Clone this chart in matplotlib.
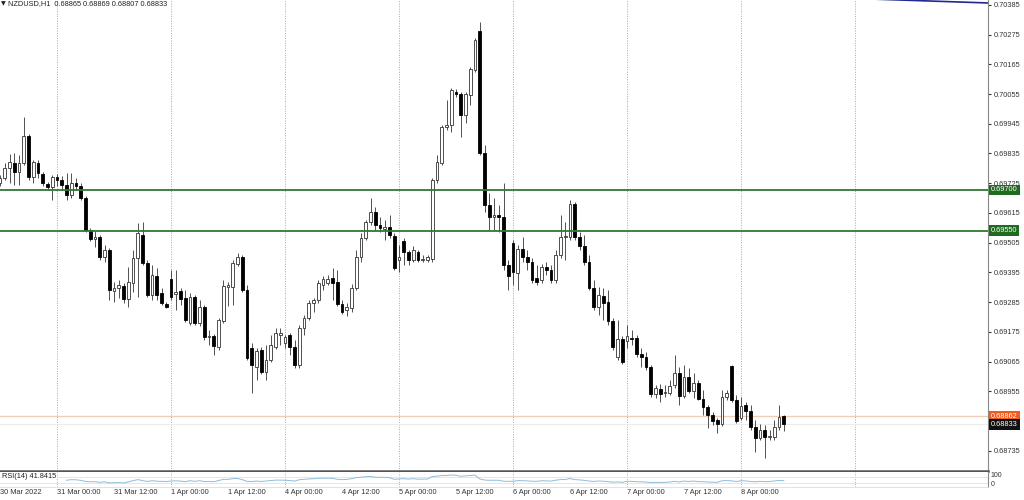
#!/usr/bin/env python
"""NZDUSD H1 candlestick chart in MetaTrader style, with an RSI(14) sub-window."""
import matplotlib
matplotlib.use("Agg")
import matplotlib.pyplot as plt
import matplotlib.transforms as mtransforms
import numpy as np

plt.rcParams["font.family"] = ["Liberation Sans", "DejaVu Sans"]

# hourly bars, 30 Mar 2022 12:00 -> 8 Apr 2022 09:00
opens = [0.69726, 0.69744, 0.69781, 0.69800, 0.69767, 0.69800, 0.69900, 0.69748, 0.69800, 0.69759,
         0.69722, 0.69711, 0.69748, 0.69737, 0.69718, 0.69682, 0.69726, 0.69715, 0.69670, 0.69552,
         0.69519, 0.69526, 0.69452, 0.69478, 0.69326, 0.69337, 0.69345, 0.69297, 0.69356, 0.69448,
         0.69534, 0.69430, 0.69312, 0.69382, 0.69319, 0.69278, 0.69371, 0.69315, 0.69326, 0.69300,
         0.69208, 0.69304, 0.69208, 0.69267, 0.69156, 0.69160, 0.69119, 0.69215, 0.69341, 0.69341,
         0.69426, 0.69452, 0.69330, 0.69115, 0.69045, 0.69108, 0.69027, 0.69071, 0.69119, 0.69164,
         0.69134, 0.69164, 0.69119, 0.69052, 0.69189, 0.69226, 0.69282, 0.69293, 0.69349, 0.69356,
         0.69374, 0.69360, 0.69278, 0.69256, 0.69263, 0.69337, 0.69452, 0.69522, 0.69582, 0.69619,
         0.69571, 0.69556, 0.69563, 0.69530, 0.69441, 0.69511, 0.69471, 0.69441, 0.69471, 0.69441,
         0.69441, 0.69445, 0.69737, 0.69800, 0.69933, 0.69941, 0.70063, 0.70055, 0.69978, 0.70052,
         0.70144, 0.70288, 0.69837, 0.69645, 0.69600, 0.69608, 0.69600, 0.69423, 0.69504, 0.69393,
         0.69482, 0.69452, 0.69434, 0.69374, 0.69367, 0.69415, 0.69404, 0.69367, 0.69460, 0.69526,
         0.69526, 0.69648, 0.69526, 0.69493, 0.69434, 0.69337, 0.69267, 0.69308, 0.69286, 0.69215,
         0.69082, 0.69149, 0.69141, 0.69152, 0.69152, 0.69093, 0.69082, 0.69045, 0.68945, 0.68964,
         0.68949, 0.68949, 0.68979, 0.69023, 0.68938, 0.69008, 0.68956, 0.68986, 0.68927, 0.68897,
         0.68868, 0.68849, 0.68834, 0.68934, 0.69049, 0.68923, 0.68856, 0.68905, 0.68882, 0.68823,
         0.68782, 0.68812, 0.68786, 0.68786, 0.68823, 0.68865]
highs = [0.69755, 0.69800, 0.69833, 0.69837, 0.69830, 0.69970, 0.69907, 0.69811, 0.69811, 0.69767,
         0.69730, 0.69755, 0.69759, 0.69752, 0.69763, 0.69763, 0.69744, 0.69726, 0.69678, 0.69559,
         0.69548, 0.69534, 0.69497, 0.69485, 0.69360, 0.69367, 0.69356, 0.69415, 0.69478, 0.69578,
         0.69582, 0.69441, 0.69423, 0.69411, 0.69337, 0.69286, 0.69404, 0.69404, 0.69337, 0.69330,
         0.69319, 0.69312, 0.69293, 0.69275, 0.69182, 0.69167, 0.69226, 0.69367, 0.69360, 0.69441,
         0.69467, 0.69460, 0.69349, 0.69134, 0.69115, 0.69119, 0.69126, 0.69164, 0.69189, 0.69189,
         0.69164, 0.69171, 0.69145, 0.69200, 0.69237, 0.69293, 0.69300, 0.69367, 0.69382, 0.69386,
         0.69411, 0.69404, 0.69293, 0.69282, 0.69352, 0.69478, 0.69541, 0.69589, 0.69670, 0.69637,
         0.69600, 0.69589, 0.69608, 0.69541, 0.69497, 0.69522, 0.69478, 0.69493, 0.69478, 0.69460,
         0.69460, 0.69744, 0.69830, 0.69941, 0.70033, 0.70077, 0.70074, 0.70063, 0.70063, 0.70155,
         0.70262, 0.70322, 0.69867, 0.69689, 0.69670, 0.69645, 0.69726, 0.69441, 0.69515, 0.69497,
         0.69526, 0.69478, 0.69448, 0.69423, 0.69426, 0.69434, 0.69423, 0.69478, 0.69608, 0.69582,
         0.69663, 0.69656, 0.69545, 0.69534, 0.69460, 0.69367, 0.69341, 0.69337, 0.69330, 0.69226,
         0.69219, 0.69160, 0.69200, 0.69182, 0.69164, 0.69115, 0.69101, 0.69052, 0.68979, 0.68982,
         0.68979, 0.68997, 0.69090, 0.69045, 0.69052, 0.69041, 0.69023, 0.68997, 0.68960, 0.68905,
         0.68879, 0.68856, 0.68960, 0.68960, 0.69052, 0.68942, 0.68934, 0.68916, 0.68905, 0.68849,
         0.68834, 0.68831, 0.68812, 0.68849, 0.68905, 0.68869]
lows = [0.69715, 0.69737, 0.69726, 0.69718, 0.69718, 0.69792, 0.69737, 0.69726, 0.69744, 0.69715,
        0.69700, 0.69663, 0.69715, 0.69700, 0.69663, 0.69670, 0.69700, 0.69663, 0.69545, 0.69511,
        0.69489, 0.69441, 0.69434, 0.69293, 0.69286, 0.69300, 0.69282, 0.69267, 0.69323, 0.69304,
        0.69423, 0.69304, 0.69293, 0.69293, 0.69275, 0.69263, 0.69293, 0.69256, 0.69275, 0.69212,
        0.69200, 0.69200, 0.69197, 0.69145, 0.69126, 0.69090, 0.69108, 0.69208, 0.69271, 0.69275,
        0.69419, 0.69323, 0.69071, 0.68949, 0.68997, 0.69019, 0.68997, 0.69064, 0.69112, 0.69126,
        0.69115, 0.69090, 0.69041, 0.69041, 0.69164, 0.69219, 0.69249, 0.69282, 0.69330, 0.69349,
        0.69293, 0.69271, 0.69241, 0.69234, 0.69249, 0.69330, 0.69434, 0.69515, 0.69571, 0.69552,
        0.69545, 0.69515, 0.69522, 0.69404, 0.69397, 0.69423, 0.69423, 0.69434, 0.69434, 0.69434,
        0.69434, 0.69434, 0.69726, 0.69792, 0.69922, 0.69915, 0.70044, 0.69896, 0.69948, 0.70015,
        0.70137, 0.69830, 0.69619, 0.69552, 0.69552, 0.69545, 0.69404, 0.69330, 0.69349, 0.69330,
        0.69434, 0.69404, 0.69356, 0.69349, 0.69356, 0.69386, 0.69356, 0.69356, 0.69448, 0.69441,
        0.69515, 0.69515, 0.69478, 0.69423, 0.69330, 0.69256, 0.69237, 0.69219, 0.69200, 0.69108,
        0.69071, 0.69056, 0.69115, 0.69126, 0.69082, 0.69045, 0.69034, 0.68934, 0.68930, 0.68916,
        0.68934, 0.68942, 0.68967, 0.68905, 0.68930, 0.68949, 0.68930, 0.68923, 0.68868, 0.68819,
        0.68831, 0.68801, 0.68827, 0.68923, 0.68916, 0.68838, 0.68849, 0.68849, 0.68812, 0.68731,
        0.68775, 0.68708, 0.68775, 0.68775, 0.68812, 0.68807]
closes = [0.69744, 0.69781, 0.69804, 0.69767, 0.69800, 0.69900, 0.69748, 0.69804, 0.69763, 0.69726,
          0.69711, 0.69748, 0.69737, 0.69718, 0.69682, 0.69726, 0.69715, 0.69670, 0.69552, 0.69519,
          0.69526, 0.69452, 0.69478, 0.69330, 0.69337, 0.69349, 0.69297, 0.69360, 0.69448, 0.69541,
          0.69430, 0.69312, 0.69386, 0.69312, 0.69282, 0.69267, 0.69304, 0.69323, 0.69297, 0.69219,
          0.69304, 0.69208, 0.69267, 0.69156, 0.69160, 0.69123, 0.69219, 0.69345, 0.69349, 0.69430,
          0.69452, 0.69330, 0.69078, 0.69052, 0.69104, 0.69027, 0.69071, 0.69126, 0.69171, 0.69171,
          0.69156, 0.69119, 0.69052, 0.69189, 0.69226, 0.69282, 0.69293, 0.69356, 0.69371, 0.69371,
          0.69356, 0.69278, 0.69249, 0.69267, 0.69337, 0.69452, 0.69522, 0.69582, 0.69619, 0.69571,
          0.69559, 0.69563, 0.69534, 0.69411, 0.69452, 0.69471, 0.69441, 0.69478, 0.69441, 0.69445,
          0.69452, 0.69737, 0.69804, 0.69933, 0.69941, 0.70070, 0.70055, 0.69978, 0.70055, 0.70148,
          0.70255, 0.69837, 0.69645, 0.69600, 0.69608, 0.69600, 0.69423, 0.69382, 0.69397, 0.69482,
          0.69452, 0.69434, 0.69367, 0.69360, 0.69415, 0.69404, 0.69367, 0.69460, 0.69526, 0.69530,
          0.69648, 0.69526, 0.69493, 0.69434, 0.69337, 0.69267, 0.69312, 0.69282, 0.69215, 0.69119,
          0.69149, 0.69064, 0.69160, 0.69150, 0.69093, 0.69082, 0.69045, 0.68945, 0.68967, 0.68945,
          0.68953, 0.68975, 0.69023, 0.68938, 0.69008, 0.68956, 0.68986, 0.68927, 0.68897, 0.68868,
          0.68845, 0.68834, 0.68934, 0.68949, 0.68923, 0.68845, 0.68901, 0.68882, 0.68823, 0.68782,
          0.68812, 0.68786, 0.68790, 0.68823, 0.68860, 0.68833]

time_labels = ["30 Mar 2022", "31 Mar 00:00", "31 Mar 12:00", "1 Apr 00:00", "1 Apr 12:00",
               "4 Apr 00:00", "4 Apr 12:00", "5 Apr 00:00", "5 Apr 12:00", "6 Apr 00:00",
               "6 Apr 12:00", "7 Apr 00:00", "7 Apr 12:00", "8 Apr 00:00"]
time_label_bars = [0, 12, 24, 36, 48, 60, 72, 84, 96, 108, 120, 132, 144, 156]
day_grid_bars = [12, 36, 60, 84, 108, 132, 156, 180]
price_ticks = [0.70385, 0.70275, 0.70165, 0.70055, 0.69945, 0.69835, 0.69725, 0.69615, 0.69505,
               0.69395, 0.69285, 0.69175, 0.69065, 0.68955, 0.68735]
level_lines = [0.69700, 0.69550]
ask_price = 0.68862
bid_price = 0.68833
trend_x = [181, 208]
trend_y = [0.70408, 0.70392]
header = "NZDUSD,H1  0.68865 0.68869 0.68807 0.68833"
rsi_title = "RSI(14) 41.8415"


def rsi(values, n=14):
    d = np.diff(values)
    up, dn = np.clip(d, 0, None), np.clip(-d, 0, None)
    out = np.full(len(values), np.nan)
    au, ad = up[:n].mean(), dn[:n].mean()
    out[n] = 100 - 100 / (1 + au / ad)
    for i in range(n + 1, len(values)):
        au = (au * (n - 1) + up[i - 1]) / n
        ad = (ad * (n - 1) + dn[i - 1]) / n
        out[i] = 100 - 100 / (1 + au / ad)
    return out


o, h, l, c = (np.array(v) for v in (opens, highs, lows, closes))
idx = np.arange(len(c))
bull = c >= o

fig = plt.figure(figsize=(10.24, 5.0), dpi=100)
ax = fig.add_axes([0, 29 / 500, 988 / 1024, 471 / 500])
rax = fig.add_axes([0, 13 / 500, 988 / 1024, 15 / 500])

xlim = (0, 208.0)
ax.set_xlim(*xlim); rax.set_xlim(*xlim)
ax.set_ylim(0.68660, 0.70403)

for b in day_grid_bars:
    for a in (ax, rax):
        a.axvline(b, color="#a8a8a8", lw=0.7, ls=(0, (1, 1.5)), zorder=0)

# candles
ax.vlines(idx, l, h, color="#444444", lw=0.65, zorder=2)
body_h = np.maximum(np.abs(c - o), 0.00002)
body_b = np.minimum(o, c)
ax.bar(idx[bull], body_h[bull], bottom=body_b[bull], width=0.62, color="white",
       edgecolor="#333333", lw=0.6, zorder=3)
ax.bar(idx[~bull], body_h[~bull], bottom=body_b[~bull], width=0.62, color="black",
       edgecolor="black", lw=0.6, zorder=3)

for p in level_lines:
    ax.axhline(p, color="#2f7a2f", lw=1.3, zorder=4)
ax.axhline(ask_price, color="#f0cdb8", lw=1.0, zorder=1)
ax.axhline(bid_price, color="#ececec", lw=0.8, zorder=1)
ax.plot(trend_x, trend_y, color="#1f2a8c", lw=1.2, zorder=4)

# right price scale
ax.yaxis.tick_right()
ax.set_yticks(price_ticks)
ax.set_yticklabels([f"{p:.5f}" for p in price_ticks])
ax.tick_params(axis="y", labelsize=5.3, length=2, pad=2, colors="#333333")
ax.set_xticks([])
for s in ("left", "top"):
    ax.spines[s].set_visible(False)
ax.spines["right"].set_color("#888888"); ax.spines["right"].set_linewidth(0.8)
ax.spines["bottom"].set_color("#555555"); ax.spines["bottom"].set_linewidth(1.8)

ytr = ax.get_yaxis_transform()
for p, fc in [(level_lines[0], "#1f6b1f"), (level_lines[1], "#1f6b1f"),
              (ask_price, "#f05a1e"), (bid_price, "#111111")]:
    ax.text(1.003, p, f"{p:.5f}", transform=ytr, fontsize=5.3, color="white", va="center",
            ha="left", clip_on=False, zorder=6,
            bbox=dict(boxstyle="square,pad=0.25", fc=fc, ec="none"))

fig.text(1 / 1024, 1 - 4 / 500, "\u25bc", fontsize=4.5, color="#222222", va="center",
         family=["DejaVu Sans"])
fig.text(8 / 1024, 1 - 4 / 500, header, fontsize=5.3, color="#222222", va="center")

# RSI window
rax.plot(idx, rsi(c), color="#8fbcd8", lw=0.7)
rax.set_ylim(0, 100)
for lv in (70, 30):
    rax.axhline(lv, color="#e2e2e2", lw=0.6, zorder=0)
rax.set_xticks([]); rax.set_yticks([])
for s in ("left", "top"):
    rax.spines[s].set_visible(False)
rax.spines["right"].set_color("#888888"); rax.spines["right"].set_linewidth(0.8)
rax.spines["bottom"].set_color("#dddddd"); rax.spines["bottom"].set_linewidth(0.6)
rax.text(0.002, 0.68, rsi_title, transform=rax.transAxes, fontsize=5.3, color="#222222",
         va="center", bbox=dict(boxstyle="square,pad=0.1", fc="white", ec="none"))
rax.text(1.003, 0.75, "100", transform=rax.transAxes, fontsize=5, color="#333333", va="center")
rax.text(1.003, 0.2, "0", transform=rax.transAxes, fontsize=5, color="#333333", va="center")

# time scale
ttr = mtransforms.blended_transform_factory(ax.transData, fig.transFigure)
for b, lab in zip(time_label_bars, time_labels):
    ax.text(b, 7 / 500, lab, transform=ttr, fontsize=5.3, color="#333333", ha="left",
            va="center", clip_on=False)

fig.savefig("out.png", dpi=100)
